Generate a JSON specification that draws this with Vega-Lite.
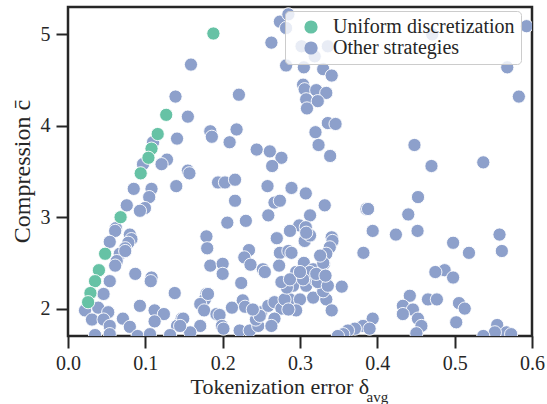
{
  "$schema": "https://vega.github.io/schema/vega-lite/v6.json",
  "autosize": "none",
  "width": 464,
  "height": 329,
  "padding": {"left": 68, "top": 7, "right": 15, "bottom": 68},
  "background": "white",
  "config": {
    "font": "Liberation Serif, Times New Roman, Times, serif",
    "view": {"stroke": "#262626", "strokeWidth": 2.5},
    "axis": {
      "grid": false,
      "domain": false,
      "labelFlush": false,
      "labelOverlap": false,
      "tickColor": "#262626",
      "tickWidth": 2,
      "tickSize": 12,
      "labelFont": "Liberation Serif, Times New Roman, Times, serif",
      "labelFontSize": 20,
      "labelColor": "#262626",
      "labelPadding": 5,
      "titleFont": "Liberation Serif, Times New Roman, Times, serif",
      "titleFontSize": 22,
      "titleFontWeight": "normal",
      "titleColor": "#262626"
    }
  },
  "datasets": {
    "other": [
      {"err": 0.274, "comp": 5.14}, {"err": 0.285, "comp": 5.22}, {"err": 0.282, "comp": 5.07}, {"err": 0.263, "comp": 4.91},
      {"err": 0.302, "comp": 4.87}, {"err": 0.315, "comp": 4.85}, {"err": 0.336, "comp": 4.87}, {"err": 0.319, "comp": 4.76},
      {"err": 0.471, "comp": 5.0}, {"err": 0.593, "comp": 5.09}, {"err": 0.568, "comp": 4.64}, {"err": 0.583, "comp": 4.32},
      {"err": 0.282, "comp": 4.66}, {"err": 0.305, "comp": 4.64}, {"err": 0.33, "comp": 4.62}, {"err": 0.341, "comp": 4.55},
      {"err": 0.304, "comp": 4.45}, {"err": 0.306, "comp": 4.4}, {"err": 0.321, "comp": 4.39}, {"err": 0.334, "comp": 4.36},
      {"err": 0.308, "comp": 4.29}, {"err": 0.323, "comp": 4.27}, {"err": 0.309, "comp": 4.19}, {"err": 0.221, "comp": 4.34},
      {"err": 0.159, "comp": 4.67}, {"err": 0.139, "comp": 4.32}, {"err": 0.155, "comp": 4.1}, {"err": 0.184, "comp": 3.94},
      {"err": 0.186, "comp": 3.88}, {"err": 0.218, "comp": 3.96}, {"err": 0.209, "comp": 3.82}, {"err": 0.336, "comp": 4.03},
      {"err": 0.346, "comp": 4.02}, {"err": 0.32, "comp": 3.93}, {"err": 0.324, "comp": 3.79}, {"err": 0.339, "comp": 3.67},
      {"err": 0.244, "comp": 3.74}, {"err": 0.261, "comp": 3.72}, {"err": 0.276, "comp": 3.65}, {"err": 0.264, "comp": 3.56},
      {"err": 0.448, "comp": 3.79}, {"err": 0.47, "comp": 3.56}, {"err": 0.537, "comp": 3.6},
      {"err": 0.141, "comp": 3.86}, {"err": 0.11, "comp": 3.82}, {"err": 0.128, "comp": 3.63}, {"err": 0.121, "comp": 3.58},
      {"err": 0.097, "comp": 3.58}, {"err": 0.155, "comp": 3.51}, {"err": 0.157, "comp": 3.48}, {"err": 0.14, "comp": 3.34},
      {"err": 0.085, "comp": 3.31}, {"err": 0.108, "comp": 3.31}, {"err": 0.105, "comp": 3.22}, {"err": 0.076, "comp": 3.13},
      {"err": 0.0995, "comp": 3.1}, {"err": 0.093, "comp": 3.07}, {"err": 0.062, "comp": 2.88}, {"err": 0.061, "comp": 2.85},
      {"err": 0.08, "comp": 2.81}, {"err": 0.082, "comp": 2.76}, {"err": 0.078, "comp": 2.72}, {"err": 0.054, "comp": 2.73},
      {"err": 0.074, "comp": 2.66}, {"err": 0.067, "comp": 2.6}, {"err": 0.074, "comp": 2.63}, {"err": 0.063, "comp": 2.52},
      {"err": 0.061, "comp": 2.47}, {"err": 0.087, "comp": 2.38}, {"err": 0.108, "comp": 2.34}, {"err": 0.107, "comp": 2.3},
      {"err": 0.054, "comp": 2.3}, {"err": 0.179, "comp": 2.79}, {"err": 0.18, "comp": 2.66}, {"err": 0.184, "comp": 2.47},
      {"err": 0.138, "comp": 2.17}, {"err": 0.046, "comp": 2.16}, {"err": 0.179, "comp": 2.16}, {"err": 0.177, "comp": 2.1},
      {"err": 0.171, "comp": 2.05}, {"err": 0.176, "comp": 1.98}, {"err": 0.093, "comp": 2.03}, {"err": 0.022, "comp": 1.98},
      {"err": 0.039, "comp": 2.01}, {"err": 0.052, "comp": 1.96}, {"err": 0.112, "comp": 1.98}, {"err": 0.124, "comp": 1.94},
      {"err": 0.031, "comp": 1.88}, {"err": 0.046, "comp": 1.88}, {"err": 0.071, "comp": 1.89}, {"err": 0.054, "comp": 1.81},
      {"err": 0.08, "comp": 1.8}, {"err": 0.112, "comp": 1.86}, {"err": 0.147, "comp": 1.89}, {"err": 0.141, "comp": 1.81},
      {"err": 0.171, "comp": 1.81}, {"err": 0.194, "comp": 3.38}, {"err": 0.192, "comp": 1.94}, {"err": 0.035, "comp": 1.71},
      {"err": 0.054, "comp": 1.72}, {"err": 0.09, "comp": 1.7}, {"err": 0.106, "comp": 1.72}, {"err": 0.132, "comp": 1.71},
      {"err": 0.158, "comp": 1.74},
      {"err": 0.203, "comp": 3.38}, {"err": 0.216, "comp": 3.41}, {"err": 0.258, "comp": 3.34}, {"err": 0.289, "comp": 3.32},
      {"err": 0.3075, "comp": 3.26}, {"err": 0.216, "comp": 3.18}, {"err": 0.267, "comp": 3.16}, {"err": 0.274, "comp": 3.18},
      {"err": 0.332, "comp": 3.13}, {"err": 0.259, "comp": 3.02}, {"err": 0.313, "comp": 3.02}, {"err": 0.386, "comp": 3.09},
      {"err": 0.206, "comp": 2.94}, {"err": 0.23, "comp": 2.96}, {"err": 0.299, "comp": 2.91}, {"err": 0.3075, "comp": 2.89},
      {"err": 0.27, "comp": 2.77}, {"err": 0.306, "comp": 2.74}, {"err": 0.313, "comp": 2.8}, {"err": 0.341, "comp": 2.78},
      {"err": 0.342, "comp": 2.74}, {"err": 0.3385, "comp": 2.67}, {"err": 0.234, "comp": 2.64}, {"err": 0.228, "comp": 2.56},
      {"err": 0.236, "comp": 2.48}, {"err": 0.274, "comp": 2.61}, {"err": 0.285, "comp": 2.63}, {"err": 0.273, "comp": 2.47},
      {"err": 0.2, "comp": 2.49}, {"err": 0.2, "comp": 2.38}, {"err": 0.252, "comp": 2.43}, {"err": 0.2545, "comp": 2.4},
      {"err": 0.305, "comp": 2.5}, {"err": 0.317, "comp": 2.43}, {"err": 0.331, "comp": 2.49}, {"err": 0.224, "comp": 2.28},
      {"err": 0.287, "comp": 2.85}, {"err": 0.308, "comp": 2.83}, {"err": 0.334, "comp": 2.6}, {"err": 0.289, "comp": 2.61},
      {"err": 0.33, "comp": 2.5}, {"err": 0.326, "comp": 2.58}, {"err": 0.295, "comp": 2.4}, {"err": 0.3127, "comp": 2.4},
      {"err": 0.308, "comp": 2.25}, {"err": 0.321, "comp": 2.3}, {"err": 0.334, "comp": 2.27}, {"err": 0.291, "comp": 2.25},
      {"err": 0.287, "comp": 2.1}, {"err": 0.3, "comp": 2.1}, {"err": 0.317, "comp": 2.12}, {"err": 0.334, "comp": 2.1},
      {"err": 0.295, "comp": 1.98}, {"err": 0.33, "comp": 2.19}, {"err": 0.304, "comp": 2.32}, {"err": 0.354, "comp": 2.24},
      {"err": 0.341, "comp": 1.98}, {"err": 0.226, "comp": 2.09}, {"err": 0.229, "comp": 2.02}, {"err": 0.212, "comp": 2.01},
      {"err": 0.196, "comp": 1.93}, {"err": 0.149, "comp": 1.89}, {"err": 0.145, "comp": 1.81}, {"err": 0.199, "comp": 1.81},
      {"err": 0.201, "comp": 1.78}, {"err": 0.222, "comp": 1.76}, {"err": 0.235, "comp": 1.76}, {"err": 0.246, "comp": 1.81},
      {"err": 0.243, "comp": 1.88}, {"err": 0.25, "comp": 1.96}, {"err": 0.259, "comp": 2.03}, {"err": 0.267, "comp": 2.07},
      {"err": 0.276, "comp": 2.0}, {"err": 0.28, "comp": 2.1}, {"err": 0.283, "comp": 2.23}, {"err": 0.276, "comp": 2.29},
      {"err": 0.287, "comp": 2.32}, {"err": 0.285, "comp": 1.99}, {"err": 0.267, "comp": 1.89}, {"err": 0.263, "comp": 1.81},
      {"err": 0.248, "comp": 1.92}, {"err": 0.239, "comp": 1.99}, {"err": 0.181, "comp": 2.16}, {"err": 0.323, "comp": 2.29},
      {"err": 0.336, "comp": 2.25}, {"err": 0.3, "comp": 2.4}, {"err": 0.321, "comp": 2.38}, {"err": 0.333, "comp": 2.36},
      {"err": 0.394, "comp": 2.85}, {"err": 0.424, "comp": 2.81}, {"err": 0.382, "comp": 2.61},
      {"err": 0.394, "comp": 1.89}, {"err": 0.3815, "comp": 1.81}, {"err": 0.371, "comp": 1.78}, {"err": 0.362, "comp": 1.76},
      {"err": 0.356, "comp": 1.72}, {"err": 0.349, "comp": 1.7}, {"err": 0.39, "comp": 1.78},
      {"err": 0.452, "comp": 2.85}, {"err": 0.498, "comp": 2.72}, {"err": 0.5185, "comp": 2.61}, {"err": 0.558, "comp": 2.81},
      {"err": 0.561, "comp": 2.63}, {"err": 0.487, "comp": 2.42}, {"err": 0.475, "comp": 2.4}, {"err": 0.498, "comp": 2.34},
      {"err": 0.4526, "comp": 3.22}, {"err": 0.44, "comp": 3.03}, {"err": 0.388, "comp": 3.09},
      {"err": 0.442, "comp": 2.14}, {"err": 0.433, "comp": 2.03}, {"err": 0.446, "comp": 1.99}, {"err": 0.433, "comp": 1.94},
      {"err": 0.4525, "comp": 1.89}, {"err": 0.457, "comp": 1.81}, {"err": 0.4505, "comp": 1.73}, {"err": 0.4655, "comp": 2.1},
      {"err": 0.477, "comp": 2.1}, {"err": 0.5056, "comp": 2.06}, {"err": 0.513, "comp": 2.0}, {"err": 0.502, "comp": 1.85},
      {"err": 0.555, "comp": 1.82}, {"err": 0.567, "comp": 1.74}, {"err": 0.573, "comp": 1.72}, {"err": 0.552, "comp": 1.74},
      {"err": 0.537, "comp": 1.7}
    ],
    "uniform": [
      {"err": 0.188, "comp": 5.01}, {"err": 0.127, "comp": 4.12}, {"err": 0.116, "comp": 3.91}, {"err": 0.108, "comp": 3.75},
      {"err": 0.104, "comp": 3.65}, {"err": 0.094, "comp": 3.48}, {"err": 0.068, "comp": 3.0}, {"err": 0.048, "comp": 2.6},
      {"err": 0.04, "comp": 2.42}, {"err": 0.035, "comp": 2.3}, {"err": 0.029, "comp": 2.17}, {"err": 0.026, "comp": 2.07}
    ]
  },
  "resolve": {"axis": {"x": "independent"}},
  "layer": [
    {
      "data": {"name": "other"},
      "transform": [{"calculate": "'Other strategies'", "as": "group"}],
      "mark": {"type": "point", "filled": true, "shape": "circle", "size": 175, "opacity": 1, "stroke": "white", "strokeWidth": 0.9, "clip": true},
      "encoding": {
        "x": {
          "field": "err", "type": "quantitative",
          "scale": {"domain": [0, 0.6], "nice": false, "zero": false},
          "axis": {"orient": "bottom", "values": [0, 0.1, 0.2, 0.3, 0.4, 0.5, 0.6], "format": ".1f",
                   "title": "Tokenization error δ", "titleX": 122, "titleY": 57, "titleAlign": "left", "titleBaseline": "alphabetic"}
        },
        "y": {
          "field": "comp", "type": "quantitative",
          "scale": {"domain": [1.7, 5.3], "nice": false, "zero": false},
          "axis": {"values": [2, 3, 4, 5], "format": "d", "labelPadding": 6, "title": "Compression c\u0304", "titleFontSize": 24,
                   "titleX": -46, "titleY": 164, "titleAlign": "center", "titleBaseline": "middle", "titleAngle": -90}
        },
        "color": {
          "field": "group", "type": "nominal",
          "scale": {"domain": ["Uniform discretization", "Other strategies"], "range": ["#66c2a5", "#8da0cb"]},
          "legend": {
            "orient": "none", "legendX": 217, "legendY": 4, "title": null,
            "labelFont": "Liberation Serif, Times New Roman, Times, serif", "labelFontSize": 20, "labelColor": "#262626",
            "labelOffset": 12, "labelLimit": 400,
            "symbolType": "circle", "symbolSize": 175, "symbolStrokeWidth": 0, "symbolOpacity": 1, "symbolOffset": 10,
            "fillColor": "rgba(255,255,255,0.8)", "strokeColor": "#cccccc", "cornerRadius": 4, "padding": 6, "rowPadding": 1
          }
        }
      }
    },
    {
      "data": {"name": "uniform"},
      "transform": [{"calculate": "'Uniform discretization'", "as": "group"}],
      "mark": {"type": "point", "filled": true, "shape": "circle", "size": 175, "opacity": 1, "stroke": "white", "strokeWidth": 0.9, "clip": true},
      "encoding": {
        "x": {
          "field": "err", "type": "quantitative",
          "scale": {"domain": [0, 0.6], "nice": false, "zero": false},
          "axis": {"orient": "top", "labels": false, "ticks": false, "domain": false, "grid": false,
                   "title": "avg", "titleFontSize": 15, "titleX": 298, "titleY": 394, "titleAlign": "left", "titleBaseline": "alphabetic"}
        },
        "y": {"field": "comp", "type": "quantitative", "scale": {"domain": [1.7, 5.3], "nice": false, "zero": false}},
        "color": {"field": "group", "type": "nominal"}
      }
    }
  ]
}
